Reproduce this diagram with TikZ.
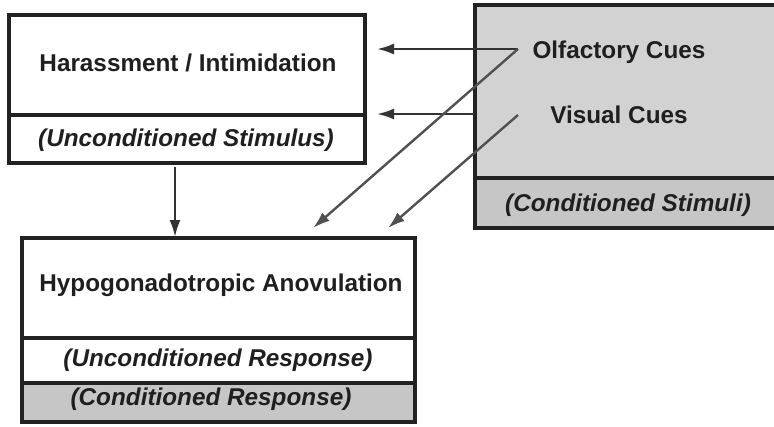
\documentclass[tikz,border=0pt]{standalone}
\usepackage{fontspec}
\setmainfont{Liberation Sans}
\usetikzlibrary{arrows.meta}
\definecolor{boxline}{HTML}{222222}
\definecolor{grayA}{HTML}{D2D2D2}
\definecolor{grayB}{HTML}{C6C6C6}
\definecolor{arrowc}{HTML}{333333}
\definecolor{arrowd}{HTML}{505050}
\begin{document}
\begin{tikzpicture}[x=1pt,y=-1pt,
  boxpart/.style={draw=boxline,line width=3.4pt},
  maintext/.style={font=\bfseries\fontsize{24.3}{28}\selectfont,text=black!88},
  subtext/.style={font=\bfseries\itshape\fontsize{24.3}{28}\selectfont,text=black!88},
  arr/.style={draw=arrowc,line width=2.4pt,-{Latex[length=17pt,width=11pt]}},
  darr/.style={draw=arrowd,line width=2.4pt,-{Latex[length=17pt,width=11pt]}}]
\useasboundingbox (0,0) rectangle (774,426);
% Box A
\draw[boxpart,fill=white] (9,15) rectangle (365,115);
\draw[boxpart,fill=white] (9,115) rectangle (365,163);
\node[maintext] (harass) at (188,63) {Harassment / Intimidation};
\node[subtext] (us) at (186,140) {(Unconditioned Stimulus)};
% Box C
\fill[grayA] (475,5) rectangle (780,178);
\fill[grayB] (475,178) rectangle (780,228);
\draw[boxpart] (780,5) -- (475,5) -- (475,228) -- (780,228);
\draw[boxpart] (475,178) -- (780,178);
\node[maintext] (olf) at (619,52) {Olfactory Cues};
\node[maintext] (vis) at (619,115) {Visual Cues};
\node[subtext] (cs) at (628,205) {(Conditioned Stimuli)};
% Box B
\draw[boxpart,fill=white] (22,238) rectangle (415,338);
\draw[boxpart,fill=white] (22,338) rectangle (415,383);
\draw[boxpart,fill=grayB] (22,383) rectangle (415,422);
\node[maintext] (hypo) at (221,285) {Hypogonadotropic Anovulation};
\node[subtext] (ur) at (218,360) {(Unconditioned Response)};
\node[subtext] (cr) at (211,399) {(Conditioned Response)};
% connector points
\coordinate (olfS) at (518,49);
\coordinate (visE) at (475,114);
\coordinate (visS) at (518,115);
\coordinate (tipA1) at (377,49);
\coordinate (tipA2) at (377,114);
\coordinate (tipB1) at (313,228);
\coordinate (tipB2) at (388,228);
\coordinate (Abot) at (175,167);
\coordinate (Btop) at (175,237);
% arrows
\draw[arr] (olfS) -- (tipA1);
\draw[arr] (visE) -- (tipA2);
\draw[arr] (Abot) -- (Btop);
\draw[darr] (olfS) -- (tipB1);
\draw[darr] (visS) -- (tipB2);
\end{tikzpicture}
\end{document}
